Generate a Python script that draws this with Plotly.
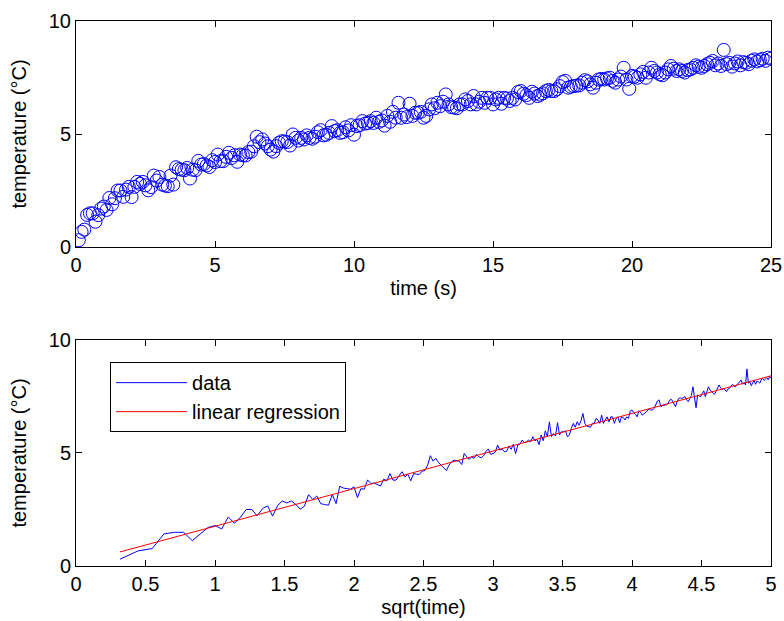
import numpy as np
import plotly.graph_objects as go
from plotly.subplots import make_subplots

# time samples (s): 0.1 ... 25.0 in steps of 0.1
time_s = [round(0.1 * k, 1) for k in range(1, 251)]

temperature = [
    0.30, 0.67, 0.77, 1.42, 1.49, 1.49, 1.12, 1.41, 1.70, 1.79,
    1.64, 2.17, 1.89, 2.16, 2.50, 2.50, 2.22, 2.54, 2.66, 2.21,
    2.66, 2.88, 2.79, 2.88, 2.73, 2.51, 2.65, 3.16, 2.94, 3.10,
    2.76, 2.72, 2.69, 3.16, 2.76, 3.53, 3.45, 3.42, 3.40, 3.50,
    3.03, 3.42, 3.40, 3.81, 3.65, 3.67, 3.61, 3.54, 3.84, 3.76,
    4.09, 3.80, 3.80, 3.99, 4.17, 3.94, 4.06, 3.77, 4.09, 4.06,
    4.05, 4.20, 4.22, 4.46, 4.88, 4.64, 4.76, 4.58, 4.46, 4.31,
    4.22, 4.46, 4.61, 4.68, 4.67, 4.64, 4.49, 4.98, 4.83, 4.71,
    4.83, 4.76, 4.94, 4.83, 4.79, 4.88, 5.08, 5.17, 4.94, 4.97,
    5.05, 5.35, 5.13, 5.17, 5.05, 5.08, 5.30, 5.16, 5.39, 4.97,
    5.35, 5.39, 5.57, 5.46, 5.49, 5.57, 5.49, 5.72, 5.54, 5.60,
    5.37, 5.80, 5.54, 5.98, 5.72, 6.38, 5.72, 5.86, 5.75, 6.34,
    5.80, 5.94, 5.94, 5.98, 5.72, 5.80, 6.09, 6.31, 6.14, 6.38,
    6.23, 6.43, 6.75, 6.31, 6.19, 6.17, 6.14, 6.31, 6.31, 6.53,
    6.46, 6.31, 6.68, 6.31, 6.43, 6.60, 6.38, 6.60, 6.60, 6.31,
    6.53, 6.60, 6.34, 6.60, 6.57, 6.46, 6.60, 6.53, 6.86, 6.90,
    6.78, 6.72, 6.60, 6.87, 6.79, 6.68, 6.74, 6.80, 6.90, 6.95,
    6.90, 6.90, 6.98, 7.12, 7.30, 7.35, 7.05, 7.09, 7.12, 7.14,
    7.15, 7.27, 7.38, 7.33, 7.20, 7.05, 7.27, 7.41, 7.44, 7.41,
    7.46, 7.49, 7.35, 7.27, 7.41, 7.54, 7.93, 7.41, 7.00, 7.57,
    7.54, 7.49, 7.64, 7.75, 7.49, 7.72, 7.93, 7.79, 7.72, 7.64,
    7.60, 7.72, 7.86, 8.01, 7.89, 7.79, 7.86, 7.79, 7.72, 7.83,
    7.86, 7.93, 8.04, 7.98, 7.93, 8.01, 8.09, 8.15, 8.23, 8.04,
    8.12, 8.01, 8.72, 8.09, 8.15, 7.98, 8.12, 8.21, 8.04, 8.18,
    8.15, 8.09, 8.24, 8.30, 8.21, 8.27, 8.33, 8.24, 8.38, 8.33,
]

top_xticks = [0, 5, 10, 15, 20, 25]
bottom_xticks = [0, 0.5, 1, 1.5, 2, 2.5, 3, 3.5, 4, 4.5, 5]
yticks = [0, 5, 10]

sqrt_t = np.sqrt(np.array(time_s))
temp = np.array(temperature)
slope, intercept = np.polyfit(sqrt_t, temp, 1)
fit = slope * sqrt_t + intercept

FONT = "Liberation Sans, Arial, Helvetica, sans-serif"
FS = 20

fig = make_subplots(rows=2, cols=1, vertical_spacing=0.17)

fig.add_trace(go.Scatter(
    x=time_s, y=temperature, mode="markers",
    marker=dict(symbol="circle-open", size=13, color="#0000FF", line=dict(width=1, color="#0000FF")),
    showlegend=False, name="temperature"), row=1, col=1)

fig.add_trace(go.Scatter(
    x=sqrt_t, y=temperature, mode="lines",
    line=dict(color="#0000FF", width=1), name="data"), row=2, col=1)
fig.add_trace(go.Scatter(
    x=sqrt_t, y=fit, mode="lines",
    line=dict(color="#FF0000", width=1), name="linear regression"), row=2, col=1)

axis_common = dict(showline=True, linecolor="black", linewidth=1, mirror="ticks",
                   ticks="inside", ticklen=6, tickcolor="black", showgrid=False,
                   zeroline=False, automargin=False,
                   tickfont=dict(family=FONT, size=FS, color="black"))

fig.update_xaxes(**axis_common)
fig.update_yaxes(**axis_common)

fig.update_xaxes(range=[0, 25], tickvals=top_xticks,
                 title=dict(text="time (s)", font=dict(family=FONT, size=FS, color="black"), standoff=5),
                 domain=[0, 1], row=1, col=1)
fig.update_xaxes(range=[0, 5], tickvals=bottom_xticks,
                 title=dict(text="sqrt(time)", font=dict(family=FONT, size=FS, color="black"), standoff=5),
                 domain=[0, 1], row=2, col=1)
fig.update_yaxes(range=[0, 10], tickvals=yticks,
                 title=dict(text="temperature (°C)", font=dict(family=FONT, size=FS, color="black"), standoff=16),
                 domain=[0.5853, 1.0], row=1, col=1)
fig.update_yaxes(range=[0, 10], tickvals=yticks,
                 title=dict(text="temperature (°C)", font=dict(family=FONT, size=FS, color="black"), standoff=16),
                 domain=[0.0, 0.4147], row=2, col=1)

fig.update_layout(
    width=784, height=621,
    margin=dict(l=76, r=13, t=21, b=55, pad=0, autoexpand=False),
    paper_bgcolor="white", plot_bgcolor="white",
    font=dict(family=FONT, size=FS, color="black"),
    legend=dict(x=0.049, y=0.374, xanchor="left", yanchor="top",
                bordercolor="black", borderwidth=1, bgcolor="white",
                font=dict(family=FONT, size=FS, color="black"),
                itemwidth=71, tracegroupgap=0),
)

fig.write_html("out.html")
